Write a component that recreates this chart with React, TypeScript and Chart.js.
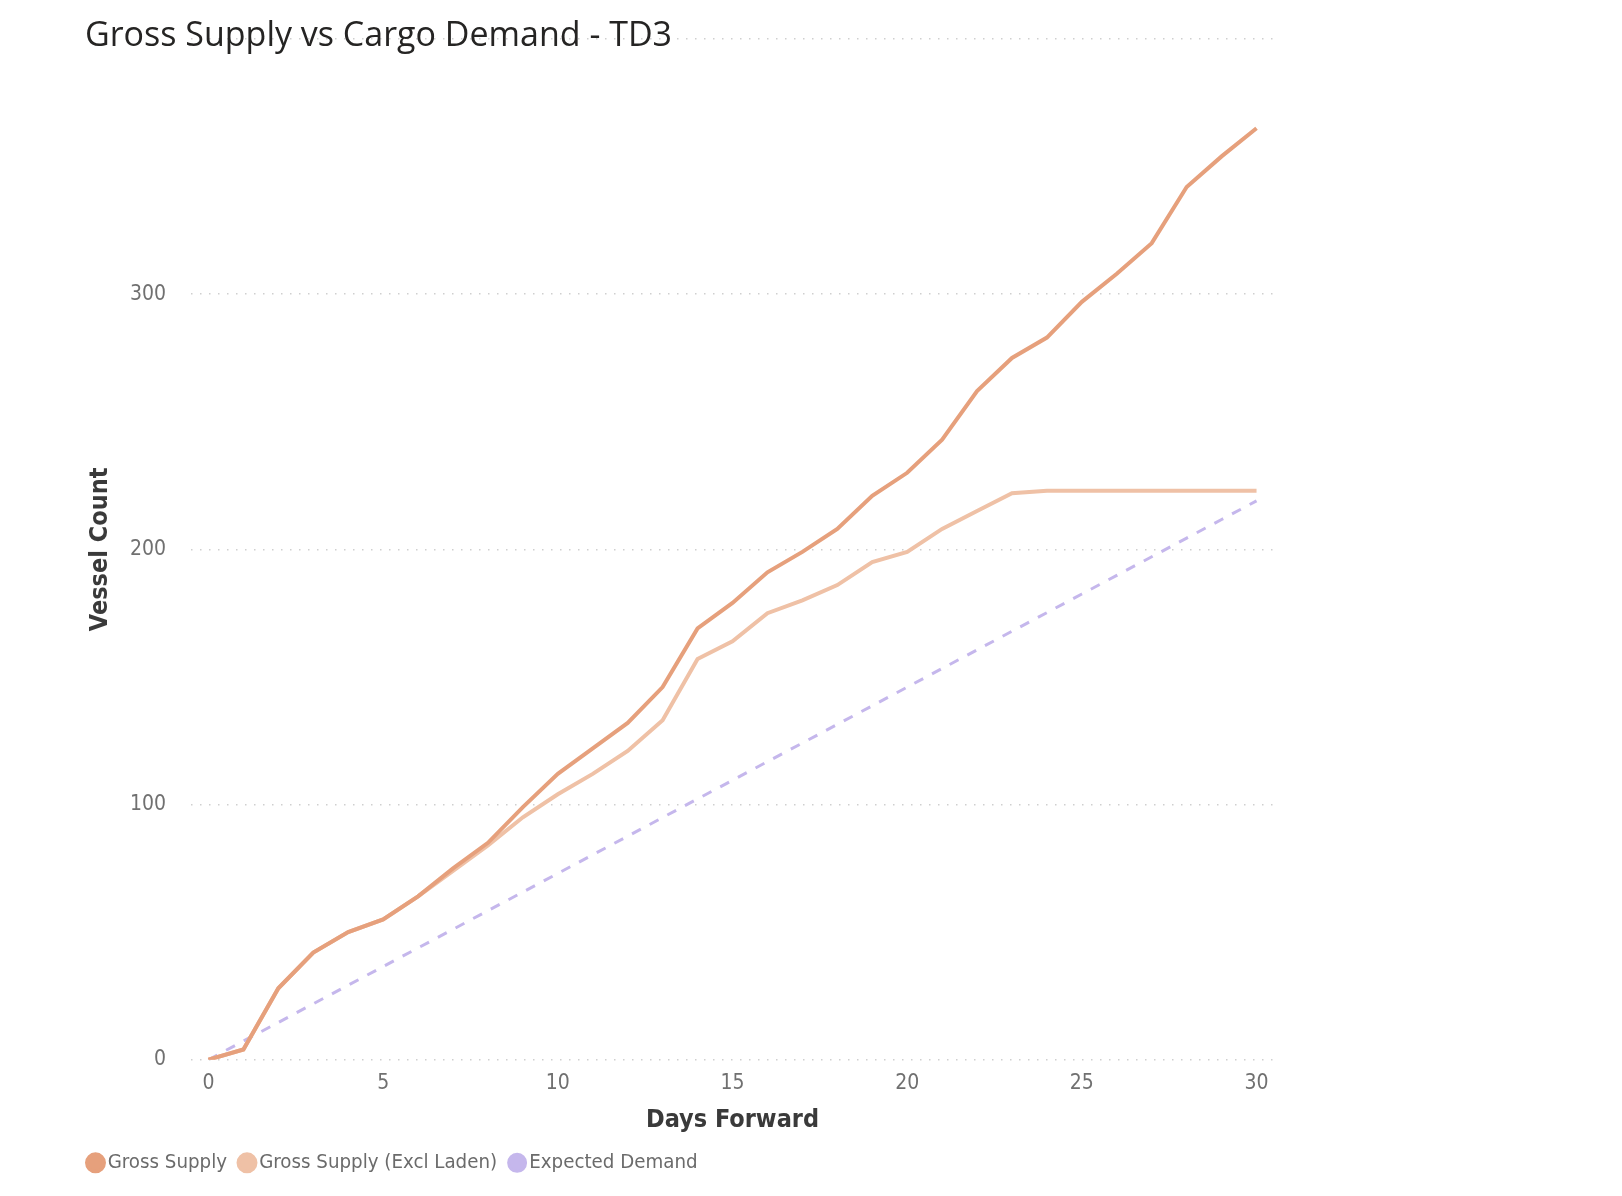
import React, { useEffect, useRef } from 'react';
import { Chart, registerables } from 'chart.js';

Chart.register(...registerables);

const CHART_TITLE = 'Gross Supply vs Cargo Demand - TD3';
const X_TITLE = 'Days Forward';
const Y_TITLE = 'Vessel Count';

const days = [0, 1, 2, 3, 4, 5, 6, 7, 8, 9, 10, 11, 12, 13, 14, 15, 16, 17, 18, 19, 20, 21, 22, 23, 24, 25, 26, 27, 28, 29, 30];
const grossSupply = [0, 4, 28, 42, 50, 55, 64, 75, 85, 99, 112, 122, 132, 146, 169, 179, 191, 199, 208, 221, 230, 243, 262, 275, 283, 297, 308, 320, 342, 354, 365];
const grossSupplyExclLaden = [0, 4, 28, 42, 50, 55, 64, 74, 84, 95, 104, 112, 121, 133, 157, 164, 175, 180, 186, 195, 199, 208, 215, 222, 223, 223, 223, 223, 223, 223, 223];
const expectedDemand = [0, 7.3, 14.6, 21.9, 29.2, 36.5, 43.8, 51.1, 58.4, 65.7, 73, 80.3, 87.6, 94.9, 102.2, 109.5, 116.8, 124.1, 131.4, 138.7, 146, 153.3, 160.6, 167.9, 175.2, 182.5, 189.8, 197.1, 204.4, 211.7, 219];
const xTicks = [0, 5, 10, 15, 20, 25, 30];
const yTicks = [0, 100, 200, 300, 400];

const seriesNames = ['Gross Supply', 'Gross Supply (Excl Laden)', 'Expected Demand'];
const seriesColors = ['#E6A07C', '#EFC1A6', '#C5B7EC'];

const FONT_UI = "'Open Sans', 'Noto Sans', sans-serif";
const FONT_AXIS = "'DejaVu Sans Condensed', 'Liberation Sans Narrow', 'Noto Sans', sans-serif";

const titlePlugin = {
  id: 'customTitle',
  afterDraw(chart: any) {
    const ctx = chart.ctx;
    ctx.save();
    ctx.font = `400 34px ${FONT_UI}`;
    ctx.fillStyle = '#252423';
    ctx.textAlign = 'left';
    ctx.textBaseline = 'middle';
    ctx.fillText(CHART_TITLE, 85, 36);
    ctx.restore();
  },
};

export default function App() {
  const canvasRef = useRef<HTMLCanvasElement | null>(null);

  useEffect(() => {
    if (!canvasRef.current) return;
    const toPoints = (vals: number[]) => days.map((d, i) => ({ x: d, y: vals[i] }));
    const chart = new Chart(canvasRef.current, {
      type: 'line',
      data: {
        datasets: [
          {
            label: seriesNames[0],
            data: toPoints(grossSupply),
            borderColor: seriesColors[0],
            backgroundColor: seriesColors[0],
            borderWidth: 4,
            pointRadius: 0,
            tension: 0,
          },
          {
            label: seriesNames[1],
            data: toPoints(grossSupplyExclLaden),
            borderColor: seriesColors[1],
            backgroundColor: seriesColors[1],
            borderWidth: 4,
            pointRadius: 0,
            tension: 0,
          },
          {
            label: seriesNames[2],
            data: toPoints(expectedDemand),
            borderColor: seriesColors[2],
            backgroundColor: seriesColors[2],
            borderWidth: 3,
            borderDash: [10, 10],
            pointRadius: 0,
            tension: 0,
          },
        ],
      },
      options: {
        animation: false,
        responsive: false,
        maintainAspectRatio: false,
        layout: { padding: { left: 75.5, right: 348, top: 39, bottom: 13 } },
        plugins: {
          title: { display: false },
          tooltip: { enabled: false },
          legend: {
            display: true,
            position: 'bottom',
            align: 'start',
            labels: {
              usePointStyle: true,
              pointStyle: 'circle',
              boxWidth: 4,
              boxHeight: 12,
              padding: 18,
              color: '#6B6B6B',
              font: { family: FONT_AXIS, size: 20.3 },
            },
          },
        },
        scales: {
          x: {
            type: 'linear',
            min: -0.5,
            max: 30.5,
            afterFit: (scale: any) => {
              scale.height = 75;
            },
            afterBuildTicks: (scale: any) => {
              scale.ticks = xTicks.map((v) => ({ value: v }));
            },
            grid: { display: false, drawTicks: false },
            border: { display: false },
            ticks: {
              padding: 11,
              color: '#707070',
              font: { family: FONT_AXIS, size: 21 },
              maxRotation: 0,
            },
            title: {
              display: true,
              text: X_TITLE,
              color: '#3A3A3A',
              font: { family: FONT_AXIS, size: 25, weight: 'bold', lineHeight: 1.1 },
              padding: { top: 0, bottom: 0 },
            },
          },
          y: {
            type: 'linear',
            min: 0,
            max: 400,
            afterFit: (scale: any) => {
              scale.width = 115.5;
            },
            afterBuildTicks: (scale: any) => {
              scale.ticks = yTicks.map((v) => ({ value: v }));
            },
            grid: {
              display: true,
              drawTicks: false,
              color: '#CFCFCF',
              lineWidth: 1.5,
            },
            border: { display: false, dash: [1.5, 7.5] },
            ticks: {
              padding: 25,
              color: '#707070',
              font: { family: FONT_AXIS, size: 21 },
              callback: (v: any) => (v === 400 ? '' : String(v)),
            },
            title: {
              display: true,
              text: Y_TITLE,
              color: '#3A3A3A',
              font: { family: FONT_AXIS, size: 25, weight: 'bold', lineHeight: 1.2 },
              padding: { top: 10, bottom: 0 },
            },
          },
        },
      },
      plugins: [titlePlugin],
    } as any);
    return () => chart.destroy();
  }, []);

  return (
    <div style={{ position: 'fixed', left: 0, top: 0, width: 1622, height: 1196, background: '#ffffff' }}>
      <canvas ref={canvasRef} width={1622} height={1196} style={{ width: 1622, height: 1196, display: 'block' }} />
    </div>
  );
}
